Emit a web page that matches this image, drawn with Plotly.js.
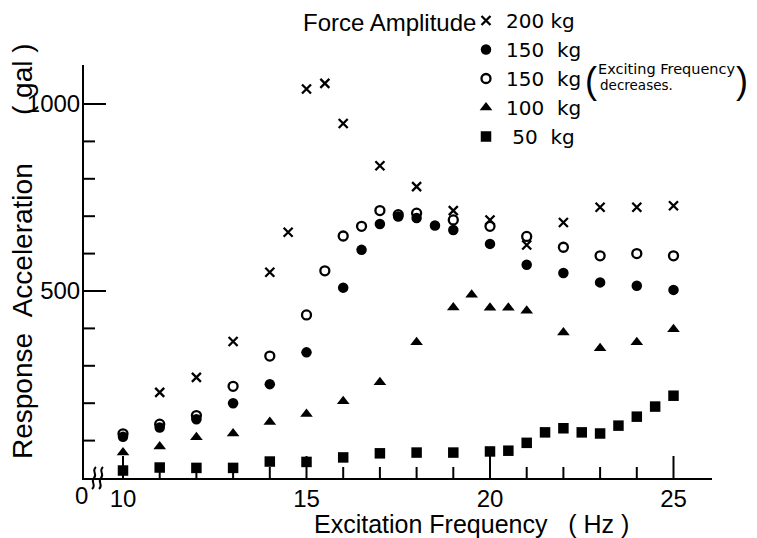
<!DOCTYPE html>
<html>
<head>
<meta charset="utf-8">
<script src="https://cdn.plot.ly/plotly-3.0.1.min.js"></script>
<style>
  html, body { margin: 0; padding: 0; background: #fff; }
  #chart { width: 757px; height: 538px; }
</style>
</head>
<body>
<div id="chart"></div>
<script>
// Response acceleration (gal) vs excitation frequency (Hz) for several force amplitudes
const freq200 = [11, 12, 13, 14, 14.5, 15, 15.5, 16, 17, 18, 19, 20, 21, 22, 23, 24, 25];
const acc200  = [229, 269, 365, 550, 657, 1040, 1055, 948, 835, 779, 715, 690, 623, 683, 724, 724, 728];

const freq150 = [10, 11, 12, 13, 14, 15, 16, 16.5, 17, 17.5, 18, 18.5, 19, 20, 21, 22, 23, 24, 25];
const acc150  = [110, 135, 157, 200, 251, 336, 509, 610, 679, 699, 695, 675, 663, 626, 570, 548, 523, 514, 503];

// 150 kg, exciting frequency decreasing
const freq150d = [10, 11, 12, 13, 14, 15, 15.5, 16, 16.5, 17, 17.5, 18, 19, 20, 21, 22, 23, 24, 25];
const acc150d  = [118, 144, 167, 245, 326, 436, 554, 647, 673, 715, 704, 708, 690, 673, 646, 617, 594, 600, 594];

const freq100 = [10, 11, 12, 13, 14, 15, 16, 17, 18, 19, 19.5, 20, 20.5, 21, 22, 23, 24, 25];
const acc100  = [68, 84, 109, 119, 150, 171, 205, 256, 363, 456, 490, 455, 455, 447, 389, 347, 363, 398];

const freq50 = [10, 11, 12, 13, 14, 15, 16, 17, 18, 19, 20, 20.5, 21, 21.5, 22, 22.5, 23, 23.5, 24, 24.5, 25];
const acc50  = [20, 28, 27, 27, 44, 43, 55, 66, 68, 68, 71, 73, 94, 122, 133, 122, 119, 140, 164, 191, 220];

const seriesNames = ['200 kg', '150\u00a0\u00a0kg', '150\u00a0\u00a0kg', '100\u00a0\u00a0kg', '\u00a050\u00a0\u00a0kg'];

const xMajorTicks = [10, 15, 20, 25];
const xMajorLabels = ['10', '15', '20', '25'];
const xMinorTicks = [11, 12, 13, 14, 16, 17, 18, 19, 21, 22, 23, 24];
const yMajorTicks = [500, 1000];
const yMajorLabels = ['500', '1000'];
const yMinorTicks = [100, 200, 300, 400, 600, 700, 800, 900];

const FONT = "'Liberation Sans', Arial, sans-serif";
const TICKFONT = "'Liberation Sans Narrow', 'Liberation Sans', Arial, sans-serif";
const SMALLFONT = "'DejaVu Sans', sans-serif";

// plot frame in pixels
const W = 757, H = 538;
const M = { l: 84, r: 45, t: 65, b: 60, autoexpand: false };
const PW = W - M.l - M.r, PH = H - M.t - M.b;
const px = v => (v - M.l) / PW;          // pixel x -> paper x
const py = v => (H - M.b - v) / PH;      // pixel y -> paper y
const MINOR_LEN = 11, MAJOR_LEN = 22;    // tick lengths in px

const X_PER_PX = 1 / 36.7;               // Hz per pixel
const Y_PER_PX = 1 / 0.374;              // gal per pixel
const X_RANGE = [20 - (490 - M.l) * X_PER_PX, 20 + (W - M.r - 490) * X_PER_PX];
const Y_RANGE = [0, PH * Y_PER_PX];

function pts(x, y, name, symbol, size, filled) {
  return {
    type: 'scatter', mode: 'markers', x: x, y: y, name: name,
    cliponaxis: false,
    marker: filled
      ? { symbol: symbol, size: size, color: '#000', line: { width: 0 } }
      : { symbol: symbol, size: size, color: '#000', line: { color: '#000', width: 2.3 } }
  };
}

// inward tick marks along both axes as one broken line trace
const tx = [], ty = [];
function xTick(v, len) { tx.push(v, v, null); ty.push(Y_RANGE[0], Y_RANGE[0] + len * Y_PER_PX, null); }
function yTick(v, len) { tx.push(X_RANGE[0], X_RANGE[0] + len * X_PER_PX, null); ty.push(v, v, null); }
xMajorTicks.forEach(v => xTick(v, MAJOR_LEN));
xMinorTicks.forEach(v => xTick(v, MINOR_LEN));
yMajorTicks.forEach(v => yTick(v, MAJOR_LEN));
yMinorTicks.forEach(v => yTick(v, MINOR_LEN));

const tickTrace = {
  type: 'scatter', mode: 'lines', x: tx, y: ty, showlegend: false, hoverinfo: 'skip',
  connectgaps: false, line: { color: '#000', width: 2 }
};

const data = [
  tickTrace,
  pts(freq200, acc200, seriesNames[0], 'x-thin-open', 9, false),
  pts(freq150, acc150, seriesNames[1], 'circle', 10.5, true),
  pts(freq150d, acc150d, seriesNames[2], 'circle-open', 9, false),
  pts(freq100, acc100, seriesNames[3], 'triangle-up', 11, true),
  pts(freq50, acc50, seriesNames[4], 'square', 10.5, true)
];

// axis break mark on the frequency axis
function squiggle(cx) {
  const p = (x, y) => px(x).toFixed(4) + ',' + py(y).toFixed(4);
  return {
    type: 'path', xref: 'paper', yref: 'paper',
    path: 'M' + p(cx + 2, 467) + ' C' + p(cx - 3, 471) + ' ' + p(cx + 4, 474) + ' ' + p(cx, 478) +
          ' C' + p(cx - 4, 482) + ' ' + p(cx + 3, 485) + ' ' + p(cx - 2, 489),
    line: { color: '#000', width: 2 }
  };
}

const layout = {
  width: W, height: H,
  margin: M,
  paper_bgcolor: '#fff', plot_bgcolor: '#fff',
  font: { family: FONT, color: '#000' },
  showlegend: true,
  legend: {
    x: px(466), xanchor: 'left', y: py(1), yanchor: 'top',
    font: { family: SMALLFONT, size: 20, color: '#000' },
    bgcolor: 'rgba(0,0,0,0)', borderwidth: 0,
    itemwidth: 30, tracegroupgap: 0
  },
  xaxis: {
    range: X_RANGE,
    showline: true, linecolor: '#000', linewidth: 2,
    showgrid: false, zeroline: false,
    tickmode: 'array', tickvals: xMajorTicks, ticktext: xMajorLabels,
    ticks: '',
    ticklabelstandoff: -2,
    tickfont: { family: TICKFONT, size: 24, color: '#000' }
  },
  yaxis: {
    range: Y_RANGE,
    showline: true, linecolor: '#000', linewidth: 2,
    showgrid: false, zeroline: false,
    tickmode: 'array', tickvals: yMajorTicks, ticktext: yMajorLabels,
    ticks: '',
    ticklabelstandoff: -3,
    tickfont: { family: TICKFONT, size: 24, color: '#000' }
  },
  shapes: [squiggle(94), squiggle(101)],
  annotations: [
    { text: 'Force Amplitude', xref: 'paper', yref: 'paper', x: px(478), y: py(22),
      xanchor: 'right', yanchor: 'middle', showarrow: false, font: { family: FONT, size: 24 } },
    { text: 'Exciting Frequency', xref: 'paper', yref: 'paper', x: px(596), y: py(69),
      xanchor: 'left', yanchor: 'middle', showarrow: false, font: { family: SMALLFONT, size: 14.5 } },
    { text: 'decreases.', xref: 'paper', yref: 'paper', x: px(598), y: py(85),
      xanchor: 'left', yanchor: 'middle', showarrow: false, font: { family: SMALLFONT, size: 13.5 } },
    { text: '(', xref: 'paper', yref: 'paper', x: px(591), y: py(80),
      xanchor: 'center', yanchor: 'middle', showarrow: false, font: { family: FONT, size: 36 } },
    { text: ')', xref: 'paper', yref: 'paper', x: px(742), y: py(80),
      xanchor: 'center', yanchor: 'middle', showarrow: false, font: { family: FONT, size: 36 } },
    { text: '0', xref: 'paper', yref: 'paper', x: px(81), y: py(495),
      xanchor: 'center', yanchor: 'middle', showarrow: false, font: { family: TICKFONT, size: 24 } },
    { text: 'Response\u00a0\u00a0Acceleration', xref: 'paper', yref: 'paper', x: px(22), y: py(311),
      xanchor: 'center', yanchor: 'middle', textangle: -90, showarrow: false, font: { family: FONT, size: 28 } },
    { text: '(\u00a0gal\u00a0)', xref: 'paper', yref: 'paper', x: px(22), y: py(79),
      xanchor: 'center', yanchor: 'middle', textangle: -90, showarrow: false, font: { family: FONT, size: 28 } },
    { text: 'Excitation\u00a0Frequency\u00a0\u00a0\u00a0(\u00a0Hz\u00a0)', xref: 'paper', yref: 'paper',
      x: px(471), y: py(524), xanchor: 'center', yanchor: 'middle', showarrow: false, font: { family: FONT, size: 25 } }
  ]
};

Plotly.newPlot('chart', data, layout, { staticPlot: true, displayModeBar: false });
</script>
</body>
</html>
